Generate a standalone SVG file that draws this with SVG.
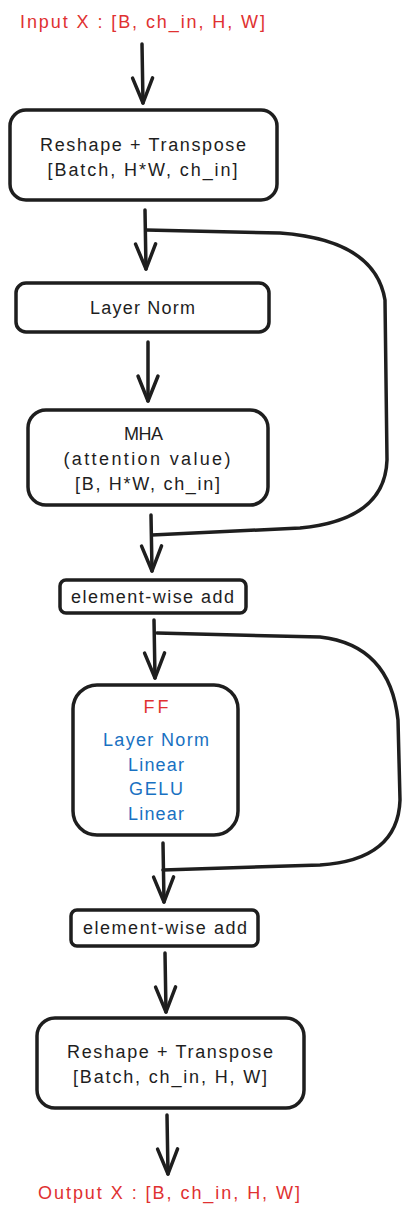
<svg xmlns="http://www.w3.org/2000/svg" width="410" height="1216" viewBox="0 0 410 1216">
<defs>
<style>
.box{fill:#ffffff;stroke:#1e1e1e;stroke-width:3.5}
.t{font-family:"Liberation Sans",Arial,sans-serif;font-size:18px;fill:#1e1e1e;text-anchor:middle}
.red{fill:#e03131}
.blue{fill:#1971c2}
.c{fill:none;stroke:#1e1e1e;stroke-width:3.5;stroke-linecap:round;stroke-linejoin:round}
</style>
<marker id="ah" markerUnits="userSpaceOnUse" viewBox="-30 -15 34 30" markerWidth="34" markerHeight="30" refX="0" refY="0" orient="auto" overflow="visible">
<path d="M-25,-10 L0,0 L-25,10" fill="none" stroke="#1e1e1e" stroke-width="3.5" stroke-linecap="round" stroke-linejoin="round"/>
</marker>
</defs>
<rect width="410" height="1216" fill="#ffffff"/>

<g id="input">
<text class="t red" x="142.5" y="28" textLength="245" lengthAdjust="spacing">Input X : [B, ch_in, H, W]</text>
</g>

<g id="reshape1">
<rect class="box" x="10" y="110" width="267" height="90" rx="16"/>
<text class="t" x="143" y="151" textLength="206" lengthAdjust="spacing">Reshape + Transpose</text>
<text class="t" x="142.5" y="176" textLength="190" lengthAdjust="spacing">[Batch, H*W, ch_in]</text>
</g>

<g id="layernorm">
<rect class="box" x="16" y="283" width="253" height="49" rx="10"/>
<text class="t" x="142.5" y="314" textLength="105" lengthAdjust="spacing">Layer Norm</text>
</g>

<g id="mha">
<rect class="box" x="28" y="410" width="240" height="95" rx="18"/>
<text class="t" x="143.5" y="440" textLength="39" lengthAdjust="spacing">MHA</text>
<text class="t" x="147" y="465" textLength="167" lengthAdjust="spacing">(attention value)</text>
<text class="t" x="147.5" y="490" textLength="145" lengthAdjust="spacing">[B, H*W, ch_in]</text>
</g>

<g id="add1">
<rect class="box" x="60" y="580" width="186" height="33" rx="6"/>
<text class="t" x="152.5" y="603" textLength="163" lengthAdjust="spacing">element-wise add</text>
</g>

<g id="ff">
<rect class="box" x="73" y="685" width="165" height="150" rx="24"/>
<text class="t red" x="156" y="713" textLength="25" lengthAdjust="spacing">FF</text>
<text class="t blue" x="156" y="746" textLength="106" lengthAdjust="spacing">Layer Norm</text>
<text class="t blue" x="156" y="771" textLength="56" lengthAdjust="spacing">Linear</text>
<text class="t blue" x="156" y="795" textLength="54" lengthAdjust="spacing">GELU</text>
<text class="t blue" x="156" y="820" textLength="56" lengthAdjust="spacing">Linear</text>
</g>

<g id="add2">
<rect class="box" x="71" y="910" width="187" height="36" rx="6"/>
<text class="t" x="165" y="934" textLength="164" lengthAdjust="spacing">element-wise add</text>
</g>

<g id="reshape2">
<rect class="box" x="37" y="1018" width="267" height="90" rx="18"/>
<text class="t" x="170" y="1058" textLength="206" lengthAdjust="spacing">Reshape + Transpose</text>
<text class="t" x="170" y="1083" textLength="194" lengthAdjust="spacing">[Batch, ch_in, H, W]</text>
</g>

<g id="output">
<text class="t red" x="169" y="1199" textLength="262" lengthAdjust="spacing">Output X : [B, ch_in, H, W]</text>
</g>

<g id="connectors">
<path class="c" d="M142,44 L143,103" marker-end="url(#ah)"/>
<path class="c" d="M145,210 L146,269" marker-end="url(#ah)"/>
<path class="c" d="M148,342 L148,401" marker-end="url(#ah)"/>
<path class="c" d="M151,515 L152,571" marker-end="url(#ah)"/>
<path class="c" d="M154,620 L155,678" marker-end="url(#ah)"/>
<path class="c" d="M163,843 L164,902" marker-end="url(#ah)"/>
<path class="c" d="M165,953 L166,1012" marker-end="url(#ah)"/>
<path class="c" d="M167,1115 L168,1174" marker-end="url(#ah)"/>
<path class="c" d="M146,230 L280,233 Q375,240 385,300 L387,460 Q385,520 300,528 L152,535"/>
<path class="c" d="M157,633 L320,637 Q390,645 398,720 L400,800 Q398,860 320,865 L163,870"/>
</g>
</svg>
